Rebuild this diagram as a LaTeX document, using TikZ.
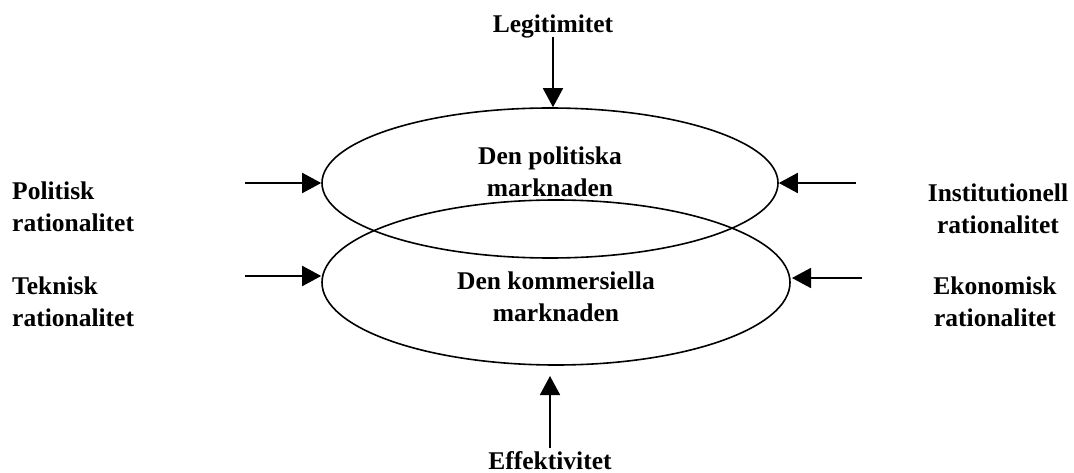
\documentclass[tikz,border=0pt]{standalone}
\usepackage{fontspec}
\setmainfont{Liberation Serif}
\usetikzlibrary{shapes.geometric,arrows.meta}
\begin{document}
\begin{tikzpicture}[x=1pt,y=-1pt,
  lbl/.style={font=\bfseries\fontsize{25.5}{32}\selectfont, inner sep=0pt},
  mkt/.style={ellipse, draw, line width=1.6pt, inner sep=0pt},
  arr/.style={line width=1.8pt, -{Triangle[length=19pt,width=20pt]}}]
\useasboundingbox (0,0) rectangle (1074,473);
\node[mkt, minimum width=456pt, minimum height=150pt] (pol) at (550,183) {};
\node[mkt, minimum width=468pt, minimum height=165pt] (kom) at (556,282.5) {};
\node[lbl, align=center] (poltxt) at (550,172) {Den politiska\\marknaden};
\node[lbl, align=center] (komtxt) at (556,297) {Den kommersiella\\marknaden};
\node[lbl] (leg) at (553,26) {Legitimitet};
\node[lbl, anchor=base] (eff) at (550,469) {Effektivitet};
\node[lbl, align=left, anchor=west] (polr) at (12,207) {Politisk\\rationalitet};
\node[lbl, align=left, anchor=west] (tekr) at (12,302) {Teknisk\\rationalitet};
\node[lbl, align=center] (inst) at (998,209) {Institutionell\\rationalitet};
\node[lbl, align=center] (ekon) at (995,302) {Ekonomisk\\rationalitet};
\coordinate (legs) at (553,37);
\coordinate (effs) at (550,448);
\coordinate (efft) at (550,376);
\coordinate (pl) at (245,183);
\coordinate (tl) at (245,276);
\coordinate (ir) at (856,183);
\coordinate (er) at (862,278);
\coordinate (ert) at (792,278);
\draw[arr] (legs) -- (legs |- pol.north);
\draw[arr] (effs) -- (efft);
\draw[arr] (pl) -- (pol.west);
\draw[arr] (tl) -- (kom.west |- tl);
\draw[arr] (ir) -- (pol.east);
\draw[arr] (er) -- (ert);
\end{tikzpicture}
\end{document}
